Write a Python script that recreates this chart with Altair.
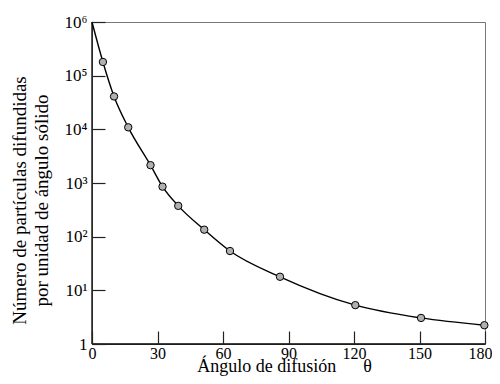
import altair as alt
import pandas as pd

# Data
theta = [5, 10.1, 16.6, 26.8, 32.3, 39.5, 51.4, 63.2, 86.1, 120.6, 150.7, 179.7]
counts = [1.8e5, 4.1e4, 1.09e4, 2150, 855, 375, 135, 54, 17.9, 5.3, 3.06, 2.24]
# the fitted curve starts at the top-left corner
curve_theta = [0] + theta
curve_counts = [1e6] + counts

x_ticks = [0, 30, 60, 90, 120, 150, 180]
y_ticks = [1, 10, 100, 1000, 10000, 100000, 1000000]

pts = pd.DataFrame({"theta": theta, "n": counts})
crv = pd.DataFrame({"theta": curve_theta, "n": curve_counts})

W, H = 393, 322
TICK = 13
FONT = "Liberation Serif"

xscale = alt.Scale(domain=[0, 180], nice=False, zero=False)
yscale = alt.Scale(type="log", domain=[1, 1e6], nice=False)

xaxis = alt.Axis(
    values=x_ticks, offset=-TICK, ticks=True, tickSize=TICK, tickColor="#222",
    tickWidth=1.2, domain=False, grid=False, zindex=2,
    labelPadding=1, labelFontSize=16, labelFont=FONT, labelColor="black",
    labelFlush=False,
    labelAlign={"condition": {"test": "datum.value == 180", "value": "right"}, "value": "center"},
    labelOffset={"condition": {"test": "datum.value == 180", "value": 7}, "value": 0},
    title="Ángulo de difusión\u00a0\u00a0\u00a0\u00a0\u00a0\u00a0θ", titleFont=FONT,
    titleFontSize=18, titleFontWeight="normal", titleColor="black",
    titlePadding=-4, titleX=192,
)
yaxis = alt.Axis(
    values=y_ticks, offset=-TICK, ticks=True, tickSize=TICK, tickColor="#222",
    tickWidth=1.2, domain=False, grid=False, zindex=2,
    labelPadding=5, labelFontSize=17, labelFont=FONT, labelColor="black",
    labelFlush=False,
    labelExpr="datum.value == 1 ? '1' : '10' + ['⁰','¹','²','³','⁴','⁵','⁶'][round(log(datum.value)/log(10))]",
    title=["Número de partículas difundidas", "por unidad de ángulo sólido"],
    titleFont=FONT, titleFontSize=19, titleFontWeight="normal",
    titleColor="black", titlePadding=13, titleLineHeight=22, titleY=178,
)

line = alt.Chart(crv).mark_line(
    color="black", strokeWidth=1.4, interpolate="monotone"
).encode(
    x=alt.X("theta:Q", scale=xscale, axis=xaxis),
    y=alt.Y("n:Q", scale=yscale, axis=yaxis),
)

points = alt.Chart(pts).mark_point(
    shape="circle", filled=True, fill="#b0b0b0", stroke="black",
    strokeWidth=1, size=55, opacity=1
).encode(
    x=alt.X("theta:Q", scale=xscale),
    y=alt.Y("n:Q", scale=yscale),
)

frame_df = pd.DataFrame({"k": [0]})
left_edge = alt.Chart(frame_df).mark_rule(color="black", strokeWidth=1.3).encode(
    x=alt.value(0), y=alt.value(0), y2=alt.value(H)
)
bottom_edge = alt.Chart(frame_df).mark_rule(color="black", strokeWidth=1.3).encode(
    x=alt.value(0), x2=alt.value(W), y=alt.value(H)
)

chart = alt.layer(
    line, points, left_edge, bottom_edge
).properties(
    width=W, height=H,
    autosize=alt.AutoSizeParams(type="none"),
    padding={"left": 84, "top": 14, "right": 7, "bottom": 32},
    background="white",
).configure_view(stroke="#777", strokeWidth=1)

chart.save("out.html", embed_options={"renderer": "svg", "actions": False})
